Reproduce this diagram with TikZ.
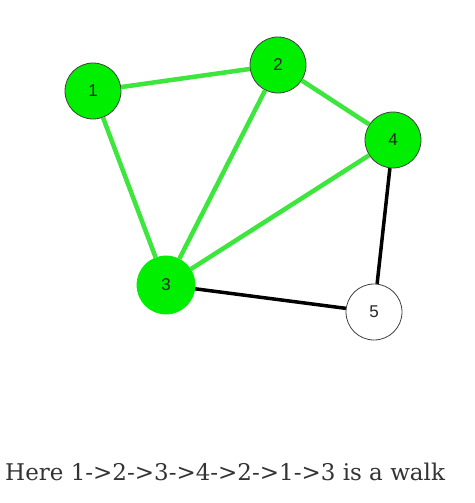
\documentclass[tikz,border=0pt]{standalone}
\usepackage{fontspec}
\setmainfont{DejaVu Serif}
\newfontfamily\arialfont{Liberation Sans}
\usepackage{tikz}
\usetikzlibrary{positioning}
\definecolor{vgreen}{RGB}{0,238,0}
\definecolor{egreen}{RGB}{60,230,60}
\definecolor{txtgray}{RGB}{51,51,51}

\begin{document}
\begin{tikzpicture}[x=1pt,y=-1pt,
    vert/.style={circle,draw=black!75,line width=0.8pt,fill=vgreen,minimum size=56pt,inner sep=0pt,text=black!85,font=\arialfont\fontsize{17}{17}\selectfont},
    plain/.style={vert,fill=white},
    gedge/.style={egreen,line width=4.5pt},
    bedge/.style={black,line width=3.5pt}]
          \useasboundingbox (0,0) rectangle (474,503);
          % walk edges first, nodes on top
          \node[vert]  (n1) at (93,91)   {1};
          \node[vert]  (n2) at (278,65)  {2};
          \node[vert]  (n4) at (393,140) {4};
          \node[vert,draw=vgreen,minimum size=58pt]  (n3) at (166,285) {3};
          \node[plain] (n5) at (374,312) {5};
          \draw[gedge] (n1) -- (n2);
          \draw[gedge] (n1) -- (n3);
          \draw[gedge] (n2) -- (n3);
          \draw[gedge] (n2) -- (n4);
          \draw[gedge] (n4) -- (n3);
          \draw[bedge] (n3) -- (n5);
          \draw[bedge] (n4) -- (n5);
          \node[anchor=base west,inner sep=0pt,text=txtgray,font=\fontsize{23}{23}\selectfont] (cap) at (5,480) {Here 1->2->3->4->2->1->3 is a walk};
\end{tikzpicture}
\end{document}
